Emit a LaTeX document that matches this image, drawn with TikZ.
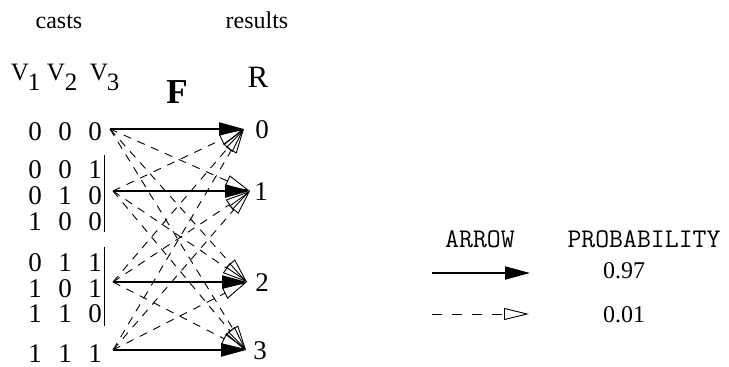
\documentclass[tikz,border=0pt]{standalone}
\usepackage{fontspec}
\setmainfont{Liberation Serif}
\usetikzlibrary{arrows.meta}
\begin{document}
\begin{tikzpicture}[x=1pt,y=-1pt,
  lbl/.style={inner sep=0pt,anchor=base,font=\fontsize{24}{24}\selectfont},
  dig/.style={inner sep=0pt,anchor=base,font=\fontsize{27}{27}\selectfont},
  vsym/.style={inner sep=0pt,anchor=base,font=\fontsize{25}{25}\selectfont},
  mono/.style={inner sep=0pt,anchor=base,font=\ttfamily\fontsize{27}{27}\selectfont},
  mainarrow/.style={line width=2pt,-{Triangle[length=25pt,width=13pt]}},
  minorarrow/.style={line width=0.9pt,dash pattern=on 8pt off 7pt,-{Triangle[open,length=25pt,width=12pt,line width=0.9pt]}},
  legminor/.style={line width=0.9pt,dash pattern=on 10pt off 10pt,-{Triangle[open,length=25pt,width=12pt,line width=0.9pt]}},
  groupbar/.style={line width=0.9pt},
]
\useasboundingbox (0,0) rectangle (729,367);

% headers
\node[lbl] (casts) at (59,28) {casts};
\node[lbl] (results) at (257,28) {results};

% V labels
\node[vsym] (v1) at (20,80) {V};
\node[vsym] (v1s) at (34,90) {1};
\node[vsym] (v2) at (56,80) {V};
\node[vsym] (v2s) at (71,90) {2};
\node[vsym] (v3) at (99,80) {V};
\node[vsym] (v3s) at (113,90) {3};

\node[inner sep=0pt,anchor=base,font=\bfseries\fontsize{35}{35}\selectfont] (F) at (177,103) {F};
\node[inner sep=0pt,anchor=base,font=\fontsize{31}{31}\selectfont] (R) at (258,87) {R};

% input rows
\foreach \name/\yy/\a/\b/\c in {r000/140/0/0/0, r001/178/0/0/1, r010/204/0/1/0, r100/230/1/0/0,
  r011/271/0/1/1, r101/297/1/0/1, r110/322/1/1/0, r111/362/1/1/1}{
  \node[dig] (\name a) at (35,\yy) {\a};
  \node[dig] (\name b) at (65,\yy) {\b};
  \node[dig] (\name c) at (95,\yy) {\c};
}

% group bars
\coordinate (g1t) at (104,155);
\coordinate (g1b) at (104,232);
\coordinate (g2t) at (104,247);
\coordinate (g2b) at (104,326);
\draw[groupbar] (g1t) -- (g1b);
\draw[groupbar] (g2t) -- (g2b);

% sources and targets
\coordinate (S0) at (110,129);
\coordinate (S1) at (113,191);
\coordinate (S2) at (113,282);
\coordinate (S3) at (113,350);
\coordinate (T0) at (244,129);
\coordinate (T1) at (250,191);
\coordinate (T2) at (247,282);
\coordinate (T3) at (246,350);

% output labels
\node[dig] (o0) at (262,138) {0};
\node[dig] (o1) at (261,200) {1};
\node[dig] (o2) at (262,291) {2};
\node[dig] (o3) at (260,359) {3};

% dashed (low probability) arrows
\foreach \i in {0,...,3}{
  \foreach \j in {0,...,3}{
    \ifnum\i=\j\else
      \draw[minorarrow] (S\i) -- (T\j);
    \fi
  }
}
% solid (high probability) arrows
\foreach \i in {0,...,3}{
  \draw[mainarrow] (S\i) -- (T\i);
}

% legend
\node[mono] (arrowhd) at (480,247) {ARROW};
\node[mono] (probhd) at (644,247) {PROBABILITY};
\coordinate (L1a) at (432,273);
\coordinate (L1b) at (530,273);
\coordinate (L2a) at (432,314);
\coordinate (L2b) at (529,314);
\draw[mainarrow] (L1a) -- (L1b);
\draw[legminor] (L2a) -- (L2b);
\node[lbl] (p97) at (624,278) {0.97};
\node[lbl] (p01) at (624,322) {0.01};
\end{tikzpicture}
\end{document}
